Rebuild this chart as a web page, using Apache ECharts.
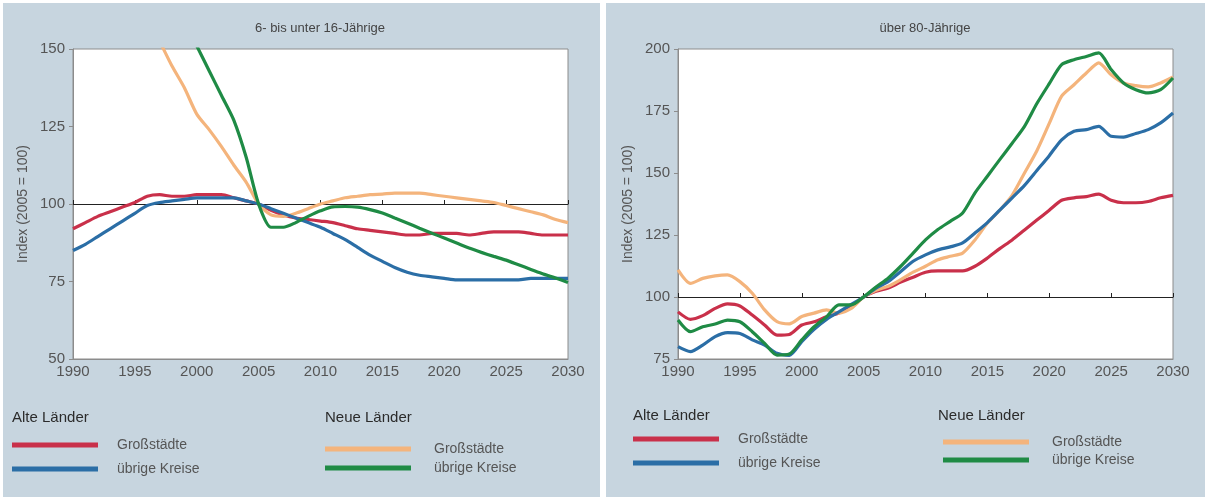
<!DOCTYPE html>
<html>
<head>
<meta charset="utf-8">
<script src="https://cdn.jsdelivr.net/npm/echarts@6/dist/echarts.min.js"></script>
<style>
  html, body { margin: 0; padding: 0; background: #fff; }
  #chart { width: 1205px; height: 499px; }
</style>
</head>
<body>
<div id="chart"></div>
<script>
// Jahre 1990 - 2030
const years = [];
for (let y = 1990; y <= 2030; y++) years.push(y);

// 6- bis unter 16-Jaehrige (Index 2005 = 100)
const kidsAlteGross = [92, 94, 96, 97.5, 99, 100.5, 102.5, 103, 102.5, 102.5, 103, 103, 103, 102, 101, 100,
  98, 96.5, 95.5, 95, 94.5, 94, 93, 92, 91.5, 91, 90.5, 90, 90, 90.5, 90.5, 90.5, 90, 90.5, 91, 91, 91, 90.5, 90, 90, 90];
const kidsAlteKreise = [85, 87, 89.5, 92, 94.5, 97, 99.5, 100.5, 101, 101.5, 102, 102, 102, 102, 101, 100,
  98.5, 97, 95.5, 94, 92.5, 90.5, 88.5, 86, 83.5, 81.5, 79.5, 78, 77, 76.5, 76, 75.5, 75.5, 75.5, 75.5, 75.5, 75.5, 76, 76, 76, 76];
const kidsNeueGross = [null, null, null, null, null, null, 160, 152.5, 144.5, 137.5, 129, 124, 118.5, 112.5, 107, 100,
  96.5, 96, 97, 98.5, 100, 101, 102, 102.5, 103, 103.2, 103.5, 103.5, 103.5, 103, 102.5, 102, 101.5, 101, 100.5, 99.5, 98.5, 97.5, 96.5, 95, 94];
const kidsNeueKreise = [null, null, null, null, null, null, null, null, null, 159, 151, 143, 135, 127, 115, 100,
  92.5, 92.5, 94, 96, 97.8, 99.1, 99.2, 99, 98.2, 97.1, 95.5, 93.9, 92.2, 90.6, 89, 87.4, 85.8, 84.4, 83.1, 81.9, 80.4, 78.9, 77.4, 76.1, 74.7];

// ueber 80-Jaehrige (Index 2005 = 100)
const oldAlteGross = [94, 91, 92.5, 95.4, 97.2, 96.4, 92.7, 88.7, 84.6, 84.9, 88.7, 90, 92, 93.5, 96, 100,
  102.3, 103.6, 106, 108, 110, 110.5, 110.5, 110.5, 112.4, 115.7, 119.5, 123, 127, 131, 135, 139, 140, 140.5, 141.5, 139, 138, 138, 138.5, 140, 141];
const oldAlteKreise = [80, 78, 80.6, 84, 85.6, 85.3, 82.7, 80.6, 77.3, 76.5, 82, 87, 91, 94, 97, 100,
  103.6, 106.3, 110.3, 114.4, 117, 119, 120.2, 121.8, 125.8, 130, 135, 140, 145, 151, 157, 163.4, 166.8, 167.5, 168.8, 164.8, 164.5, 165.9, 167.5, 170.2, 174.2];
const oldNeueGross = [110.9, 105.5, 107.5, 108.5, 108.9, 106.2, 101.5, 94.8, 90.1, 89.2, 92.1, 93.5, 94.8, 93.5, 95.4, 100,
  102.7, 104.3, 107, 110, 112.4, 115, 116.4, 117.7, 123, 129.8, 135, 141, 150, 159, 170, 181, 185.6, 190.3, 194.4, 189.6, 186.3, 185.2, 184.7, 186.3, 188.7];
const oldNeueKreise = [90.7, 86, 88, 89.1, 90.7, 90, 86, 81.3, 76.6, 77, 82.7, 88, 92, 96.8, 96.8, 100,
  104, 107.7, 112.4, 117.7, 123, 127.2, 130.5, 133.9, 142, 148.7, 155.4, 162, 168.8, 178, 186, 193.7, 195.7, 197, 198.4, 191.7, 186.3, 183.6, 182.3, 183.6, 188.3];

const legendLabels = { aG: 'Großstädte', aK: 'übrige Kreise', nG: 'Großstädte', nK: 'übrige Kreise' };
const colors = { aG: '#c9304a', aK: '#2b6ea6', nG: '#f4b47c', nK: '#1f8b45' };

const pairs = vals => years.map((y, i) => [y, vals[i]]);

function line(name, vals, idx) {
  return {
    name: name,
    type: 'line',
    xAxisIndex: idx * 2,
    yAxisIndex: idx,
    data: pairs(vals),
    smooth: 0.25,
    symbol: 'none',
    color: colors[name],
    lineStyle: { width: 3.2, color: colors[name] }
  };
}

const grids = [
  { left: 73, top: 49, width: 495, height: 310 },
  { left: 678, top: 49, width: 495, height: 310 }
];

function xAxes(gi, offset100) {
  return [{
    type: 'value', gridIndex: gi, min: 1990, max: 2030, interval: 5,
    axisLine: { show: true, lineStyle: { color: '#8c8c8c' } },
    axisTick: { show: false },
    splitLine: { show: false },
    axisLabel: { color: '#555', fontSize: 15, margin: 5, fontFamily: 'Liberation Sans', formatter: v => String(v) }
  }, {
    // Bezugslinie 100 mit kleinen Strichen
    type: 'value', gridIndex: gi, min: 1990, max: 2030, interval: 5,
    position: 'bottom', offset: offset100,
    axisLine: { show: true, lineStyle: { color: '#222', width: 1 } },
    axisTick: { show: true, inside: true, length: 4, lineStyle: { color: '#222' } },
    axisLabel: { show: false },
    splitLine: { show: false }
  }];
}

function yAxis(gi, min, max) {
  return {
    type: 'value', gridIndex: gi, min: min, max: max, interval: 25,
    name: 'Index (2005 = 100)', nameLocation: 'middle', nameGap: 43, nameRotate: 90,
    nameTextStyle: { color: '#555', fontSize: 14, fontFamily: 'Liberation Sans' },
    axisLine: { show: true, lineStyle: { color: '#8c8c8c' } },
    axisTick: { show: true, length: 4, lineStyle: { color: '#8c8c8c' } },
    splitLine: { show: false },
    axisLabel: { color: '#555', fontSize: 15, margin: 8, fontFamily: 'Liberation Sans' }
  };
}

function legend(names, left, top, gap, textGap) {
  return {
    data: names, left: left, top: top, orient: 'vertical',
    icon: 'rect', itemWidth: 86, itemHeight: 5, itemGap: gap,
    formatter: n => legendLabels[n],
    textStyle: { color: '#555', fontSize: 14, lineHeight: 16, fontFamily: 'Liberation Sans', padding: [0, 0, 0, textGap] }
  };
}

function label(x, y, text, size, color, align) {
  return {
    type: 'text', x: x, y: y,
    style: { text: text, fill: color, font: size + 'px "Liberation Sans"', textAlign: align || 'left', textVerticalAlign: 'middle' }
  };
}

const chart = echarts.init(document.getElementById('chart'));
chart.setOption({
  animation: false,
  backgroundColor: '#ffffff',
  graphic: [
    { type: 'rect', z: -10, shape: { x: 3, y: 3, width: 597, height: 494 }, style: { fill: '#c7d5df' } },
    { type: 'rect', z: -10, shape: { x: 606, y: 3, width: 599, height: 494 }, style: { fill: '#c7d5df' } },
    label(320, 28, '6- bis unter 16-Jährige', 13, '#444', 'center'),
    label(925, 28, 'über 80-Jährige', 13, '#444', 'center'),
    label(12, 418, 'Alte Länder', 15, '#2b2b2b'),
    label(325, 418, 'Neue Länder', 15, '#2b2b2b'),
    label(633, 416, 'Alte Länder', 15, '#2b2b2b'),
    label(938, 416, 'Neue Länder', 15, '#2b2b2b')
  ],
  grid: grids.map(g => Object.assign({ show: true, backgroundColor: '#fff', borderColor: '#8c8c8c', borderWidth: 1 }, g)),
  xAxis: [...xAxes(0, -155), ...xAxes(1, -62)],
  yAxis: [yAxis(0, 50, 150), yAxis(1, 75, 200)],
  legend: [
    legend(['aG', 'aK'], 7, 432, 8, 14),
    legend(['nG', 'nK'], 320, 436, 3, 18),
    legend(['aG', 'aK'], 628, 426, 8, 14),
    legend(['nG', 'nK'], 938, 429, 2, 18)
  ],
  series: [
    line('aG', kidsAlteGross, 0),
    line('nG', kidsNeueGross, 0),
    line('aK', kidsAlteKreise, 0),
    line('nK', kidsNeueKreise, 0),
    line('aG', oldAlteGross, 1),
    line('nG', oldNeueGross, 1),
    line('aK', oldAlteKreise, 1),
    line('nK', oldNeueKreise, 1)
  ]
});
</script>
</body>
</html>
